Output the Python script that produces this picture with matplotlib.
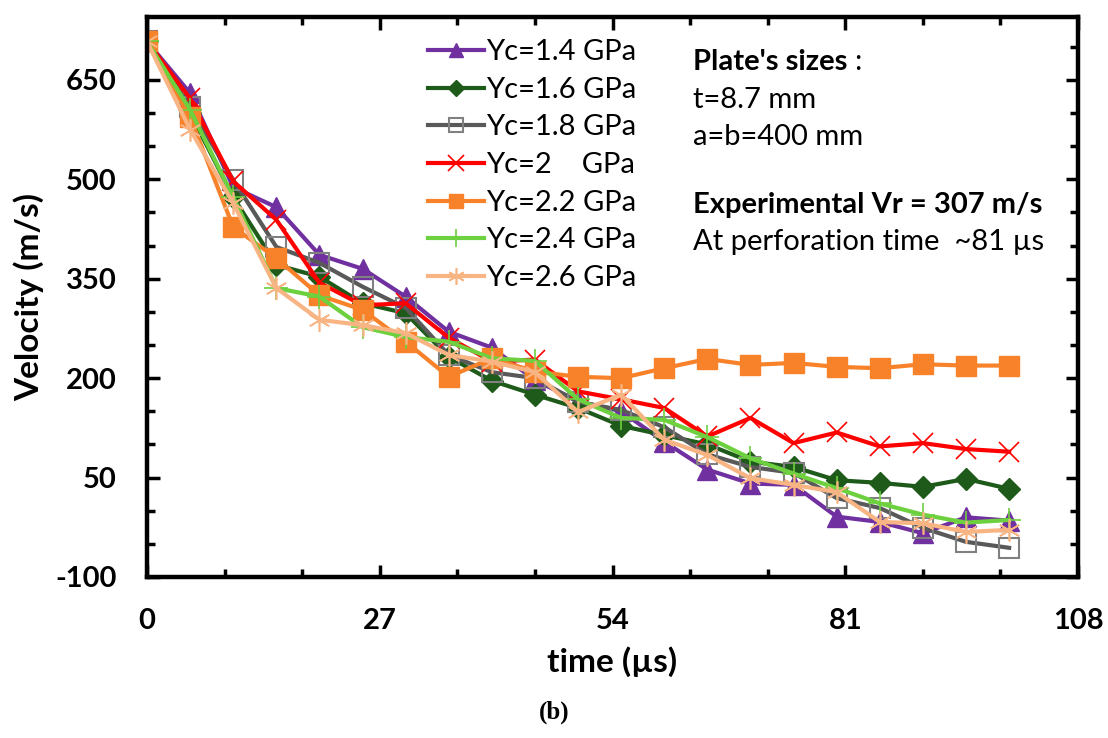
import matplotlib
matplotlib.use("Agg")
import matplotlib.pyplot as plt
from matplotlib.ticker import MultipleLocator

plt.rcParams['font.family'] = ['Lato', 'DejaVu Sans']
plt.rcParams['axes.unicode_minus'] = False

time_us = [0, 5, 10, 15, 20, 25, 30, 35, 40, 45, 50, 55, 60, 65, 70, 75, 80, 85, 90, 95, 100]

v_14 = [708, 630, 488, 458, 386, 365, 323, 270, 246, 197, 165, 150, 104, 62, 41, 39, -9, -17, -34, -10, -15]
v_16 = [708, 600, 473, 371, 353, 313, 298, 232, 196, 175, 155, 128, 114, 100, 74, 66, 46, 42, 36, 48, 33]
v_18 = [708, 609, 499, 398, 374, 338, 306, 235, 209, 200, 164, 152, 126, 85, 66, 57, 19, 4, -26, -47, -56]
v_20 = [708, 622, 497, 439, 344, 310, 313, 261, 225, 228, 180, 168, 155, 112, 140, 102, 118, 97, 102, 93, 89]
v_22 = [708, 594, 428, 381, 325, 303, 255, 202, 230, 210, 202, 200, 215, 229, 220, 223, 217, 215, 221, 219, 219]
v_24 = [708, 605, 473, 336, 323, 277, 262, 255, 230, 226, 168, 140, 137, 111, 79, 56, 34, 11, -6, -18, -14]
v_26 = [708, 575, 464, 336, 288, 280, 268, 235, 225, 209, 149, 175, 107, 84, 49, 39, 28, -17, -19, -32, -29]

labels = ["Yc=1.4 GPa", "Yc=1.6 GPa", "Yc=1.8 GPa", "Yc=2    GPa",
          "Yc=2.2 GPa", "Yc=2.4 GPa", "Yc=2.6 GPa"]

x_ticks = [0, 27, 54, 81, 108]
y_ticks = [-100, 50, 200, 350, 500, 650]

fig = plt.figure(figsize=(11.08, 7.38), dpi=100)
ax = fig.add_axes([0.1327, 0.2182, 0.973 - 0.1327, 0.977 - 0.2182])

lw = 3.0
series = [
    (v_14, dict(color='#7030A0', marker='^', ms=14, mfc='#7030A0', mec='#7030A0')),
    (v_16, dict(color='#1E5A1A', marker='D', ms=11, mfc='#1E5A1A', mec='#1E5A1A')),
    (v_18, dict(color='#595959', marker='s', ms=14, mfc='none', mec='#808080', mew=1.5)),
    (v_20, dict(color='#FF0000', marker='x', ms=15, mec='#FF0000', mew=1.2)),
    (v_22, dict(color='#F8822A', marker='s', ms=14, mfc='#F8822A', mec='#F8822A')),
    (v_24, dict(color='#6DD03E', marker='+', ms=17, mec='#6DD03E', mew=1.2)),
    (v_26, dict(color='#F9B483', marker=(6, 2, 0), ms=16, mec='#F9B483', mew=1.2)),
]
for (vals, st), lab in zip(series, labels):
    ax.plot(time_us, vals, lw=lw, label=lab, **st)

ax.set_xlim(0, 108)
ax.set_ylim(-100, 745)
ax.set_xticks(x_ticks)
ax.set_yticks(y_ticks)
ax.xaxis.set_minor_locator(MultipleLocator(9))
ax.yaxis.set_minor_locator(MultipleLocator(50))
ax.tick_params(which='both', direction='in', top=True, right=True, width=2.5)
ax.tick_params(which='major', length=9, labelsize=21)
ax.tick_params(axis='x', which='major', pad=22)
ax.tick_params(axis='y', which='major', pad=22)
ax.tick_params(which='minor', length=6)
for lbl in ax.get_xticklabels() + ax.get_yticklabels():
    lbl.set_fontweight('bold')
for sp in ax.spines.values():
    sp.set_linewidth(3.2)

ax.set_xlabel('time (µs)', fontsize=24, fontweight='bold', labelpad=9)
ax.set_ylabel('Velocity (m/s)', fontsize=24, fontweight='bold', labelpad=8)

leg = ax.legend(loc='upper left', bbox_to_anchor=(0.28, 0.997), frameon=False,
                fontsize=21, handlelength=1.9, handletextpad=0.1,
                labelspacing=0.40, markerscale=0.75, borderaxespad=0.3)

tx = 0.5865
fs = 21
t1 = ax.text(tx, 0.920, "Plate's sizes", transform=ax.transAxes, fontsize=fs, fontweight='bold', va='center')
ax.annotate(":", xy=(1, 0.5), xycoords=t1, xytext=(5, 0), textcoords='offset points',
            fontsize=fs, va='center', ha='left')
ax.text(tx, 0.851, "t=8.7 mm", transform=ax.transAxes, fontsize=fs, va='center')
ax.text(tx, 0.785, "a=b=400 mm", transform=ax.transAxes, fontsize=fs, va='center')
ax.text(tx, 0.664, "Experimental Vr = 307 m/s", transform=ax.transAxes, fontsize=fs, fontweight='bold', va='center')
ax.text(tx, 0.598, "At perforation time  ~81 µs", transform=ax.transAxes, fontsize=fs, va='center')

fig.text(0.5, 0.035, "(b)", ha='center', va='center', fontsize=18, fontweight='bold',
         family=['Liberation Serif', 'DejaVu Serif'])

fig.savefig('out.png', dpi=100)
